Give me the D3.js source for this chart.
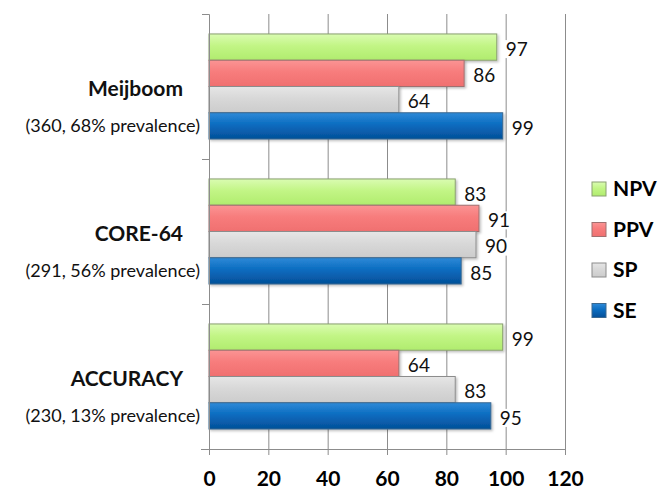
<!DOCTYPE html>
<html>
<head>
<meta charset="utf-8">
<script src="https://cdn.jsdelivr.net/npm/d3@7"></script>
<style>
  body { margin: 0; background: #fff; }
  svg { font-family: Lato, "Open Sans", sans-serif; }
</style>
</head>
<body>
<script>
// chart data
let studies = ["Meijboom", "CORE-64", "ACCURACY"];
let subtitles = ["(360, 68% prevalence)", "(291, 56% prevalence)", "(230, 13% prevalence)"];
let measures = ["NPV", "PPV", "SP", "SE"];
let npv = [97, 83, 99];
let ppv = [86, 91, 64];
let sp = [64, 90, 83];
let se = [99, 85, 95];
let xTicks = [0, 20, 40, 60, 80, 100, 120];

let svgWidth = 670;
let svgHeight = 490;
let margin = { top: 14, left: 209, right: 105, bottom: 41 };
let chartWidth = svgWidth - margin.left - margin.right;
let chartHeight = svgHeight - margin.top - margin.bottom;

let svg = d3.select("body").append("svg")
  .attr("width", svgWidth)
  .attr("height", svgHeight);

// gradients for the bars
let defs = svg.append("defs");
let fills = {
  NPV: ["#dafcb2", "#c2f585", "#b0ec6e"],
  PPV: ["#fb9494", "#f77c7c", "#f07070"],
  SP: ["#e6e6e6", "#d8d8d8", "#cccccc"],
  SE: ["#2e8ad8", "#0a6cc0", "#054f98"]
};
let strokes = { NPV: "#8aa070", PPV: "#a07070", SP: "#8c8c8c", SE: "#3a6890" };
measures.forEach(m => {
  let g = defs.append("linearGradient")
    .attr("id", "grad-" + m)
    .attr("x1", 0).attr("y1", 0).attr("x2", 0).attr("y2", 1);
  g.append("stop").attr("offset", "0%").attr("stop-color", fills[m][0]);
  g.append("stop").attr("offset", "45%").attr("stop-color", fills[m][1]);
  g.append("stop").attr("offset", "100%").attr("stop-color", fills[m][2]);
});
let shadow = defs.append("filter").attr("id", "shadow")
  .attr("x", "-5%").attr("y", "-20%").attr("width", "115%").attr("height", "160%");
shadow.append("feDropShadow")
  .attr("dx", 1.5).attr("dy", 1.5).attr("stdDeviation", 1.2)
  .attr("flood-color", "#000").attr("flood-opacity", 0.25);

let chart = svg.append("g")
  .attr("transform", `translate(${margin.left}, ${margin.top})`);

let xScale = d3.scaleLinear().domain([0, 120]).range([0, chartWidth]);
let yScale = d3.scaleBand().domain(studies).range([0, chartHeight]).padding(0);
let inner = d3.scaleBand().domain(measures)
  .range([0, yScale.bandwidth()]).paddingInner(0).paddingOuter(0.76);
let boundary = d3.scaleLinear().domain([0, studies.length]).range([0, chartHeight]);

// gridlines
chart.append("g")
  .attr("class", "grid")
  .call(d3.axisBottom(xScale).tickValues(xTicks.slice(1)).tickSize(chartHeight).tickFormat(""))
  .call(g => g.select(".domain").remove())
  .call(g => g.selectAll("line").attr("stroke", "#8c8c8c"));

// bars
let rows = [];
studies.forEach((s, i) => {
  rows.push({ study: s, measure: "NPV", value: npv[i] });
  rows.push({ study: s, measure: "PPV", value: ppv[i] });
  rows.push({ study: s, measure: "SP", value: sp[i] });
  rows.push({ study: s, measure: "SE", value: se[i] });
});

// value label background boxes (hide gridlines behind the numbers)
chart.selectAll(".labbg")
  .data(rows)
  .enter()
  .append("rect")
  .attr("class", "labbg")
  .attr("x", d => xScale(d.value) + 6)
  .attr("y", d => yScale(d.study) + inner(d.measure) + inner.bandwidth() / 2 - 7)
  .attr("width", 28).attr("height", 18)
  .attr("fill", "#fff");

chart.selectAll(".bar")
  .data(rows)
  .enter()
  .append("rect")
  .attr("class", "bar")
  .attr("x", xScale(0))
  .attr("y", d => yScale(d.study) + inner(d.measure))
  .attr("width", d => xScale(d.value))
  .attr("height", inner.bandwidth())
  .attr("fill", d => `url(#grad-${d.measure})`)
  .attr("stroke", d => strokes[d.measure])
  .attr("stroke-width", 1)
  .attr("filter", "url(#shadow)");

chart.selectAll(".lab")
  .data(rows)
  .enter()
  .append("text")
  .attr("class", "lab")
  .attr("x", d => xScale(d.value) + 9)
  .attr("y", d => yScale(d.study) + inner(d.measure) + inner.bandwidth() / 2 + 2)
  .attr("dy", "0.35em")
  .style("font-size", "19px")
  .attr("fill", "#111")
  .text(d => d.value);

// y axis with ticks at group boundaries
chart.append("g")
  .call(d3.axisLeft(boundary).tickValues(d3.range(studies.length + 1)).tickSize(7).tickFormat(""))
  .call(g => g.selectAll("line, path").attr("stroke", "#8c8c8c"));

// x axis
chart.append("g")
  .attr("transform", `translate(0, ${chartHeight})`)
  .call(d3.axisBottom(xScale).tickValues(xTicks).tickSize(6).tickSizeOuter(0).tickPadding(16))
  .call(g => g.selectAll("line, path").attr("stroke", "#8c8c8c"))
  .call(g => g.select(".domain").attr("d", `M-8,0.5H${chartWidth}`))
  .call(g => g.selectAll("text")
    .style("font-size", "21px")
    .style("font-weight", "bold")
    .style("font-family", "Lato, 'Open Sans', sans-serif")
    .attr("fill", "#000"));

// category labels
studies.forEach((s, i) => {
  let c = yScale(s) + yScale.bandwidth() / 2;
  chart.append("text")
    .attr("x", -26)
    .attr("y", c + 2)
    .attr("dy", "0.35em")
    .attr("text-anchor", "end")
    .style("font-size", "21px")
    .style("font-weight", "bold")
    .attr("fill", "#111")
    .text(s);
  chart.append("text")
    .attr("x", -9)
    .attr("y", yScale(s) + inner("SE") + inner.bandwidth() / 2)
    .attr("dy", "0.35em")
    .attr("text-anchor", "end")
    .style("font-size", "18px")
    .attr("fill", "#111")
    .text(subtitles[i]);
});

// legend
let legend = svg.append("g")
  .attr("transform", "translate(592, 189)");
measures.forEach((m, i) => {
  let item = legend.append("g").attr("transform", `translate(0, ${i * 40.5})`);
  item.append("rect")
    .attr("x", 0).attr("y", -7)
    .attr("width", 14).attr("height", 14)
    .attr("fill", `url(#grad-${m})`)
    .attr("stroke", strokes[m]);
  item.append("text")
    .attr("x", 21)
    .attr("dy", "0.35em")
    .style("font-size", "21px")
    .style("font-weight", "bold")
    .attr("fill", "#000")
    .text(m);
});
</script>
</body>
</html>
